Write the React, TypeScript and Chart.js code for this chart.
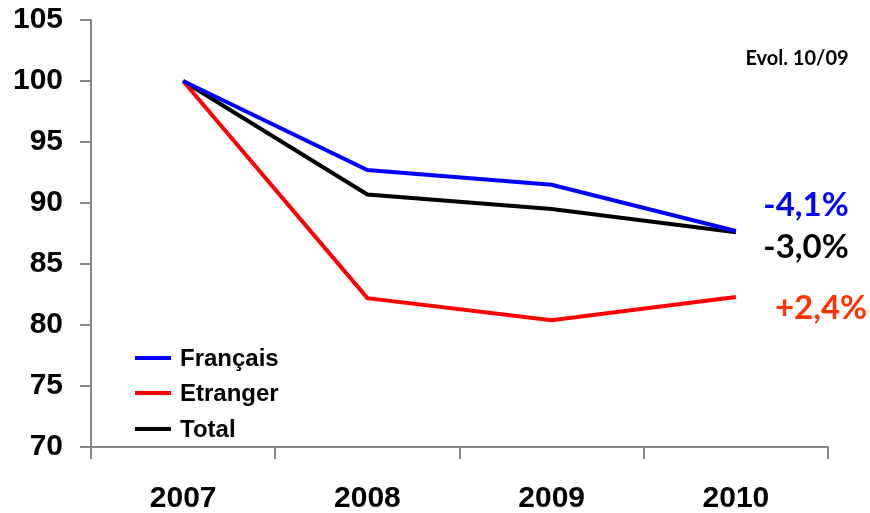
import React, { useEffect, useRef } from "react";
import { Chart, registerables } from "chart.js";

Chart.register(...registerables);

const years = ["2007", "2008", "2009", "2010"];
const francais = [100, 92.7, 91.5, 87.7];
const etranger = [100, 82.2, 80.4, 82.3];
const total = [100, 90.7, 89.5, 87.6];
const seriesNames = ["Français", "Etranger", "Total"];
const seriesColors = ["#0000FF", "#FF0000", "#000000"];
const evolTitle = "Evol. 10/09";
const evolLabels = ["-4,1%", "-3,0%", "+2,4%"];
const evolColors = ["#0000FF", "#000000", "#FF3300"];
// dataset index each evolution label refers to
const evolSeries = [0, 2, 1];

const AXIS_COLOR = "#868686";
const LABEL_FONT = "Lato, 'Open Sans', 'Liberation Sans', sans-serif";

const legendPlugin = {
  id: "customLegend",
  afterDraw(chart: any) {
    const { ctx, chartArea } = chart;
    ctx.save();
    ctx.font = "bold 24px 'Liberation Sans', Arial, sans-serif";
    ctx.textBaseline = "middle";
    ctx.textAlign = "left";
    const rows = [chartArea.bottom - 89, chartArea.bottom - 54, chartArea.bottom - 18];
    chart.data.datasets.forEach((ds: any, i: number) => {
      const y = rows[i];
      const x0 = chartArea.left + 44;
      ctx.strokeStyle = ds.borderColor;
      ctx.lineWidth = 4;
      ctx.beginPath();
      ctx.moveTo(x0, y);
      ctx.lineTo(x0 + 36, y);
      ctx.stroke();
      ctx.fillStyle = "#000";
      ctx.fillText(ds.label, x0 + 45, y + 1);
    });
    ctx.restore();
  },
};

const evolPlugin = {
  id: "evolLabels",
  afterDraw(chart: any) {
    const { ctx, chartArea } = chart;
    ctx.save();
    ctx.textBaseline = "middle";
    ctx.textAlign = "center";
    ctx.fillStyle = "#000";
    ctx.font = `bold 20px ${LABEL_FONT}`;
    ctx.fillText(evolTitle, chartArea.right - 31, chartArea.top + 39);
    ctx.font = `bold 33px ${LABEL_FONT}`;
    const offsets = [-26, 15, 11];
    const xs = [-22, -22, -7];
    evolLabels.forEach((txt, i) => {
      const meta = chart.getDatasetMeta(evolSeries[i]);
      const last = meta.data[meta.data.length - 1];
      ctx.fillStyle = evolColors[i];
      ctx.fillText(txt, chartArea.right + xs[i], last.y + offsets[i]);
    });
    ctx.restore();
  },
};

export default function App() {
  const ref = useRef<HTMLCanvasElement | null>(null);
  useEffect(() => {
    document.body.style.margin = "0";
    const canvas = ref.current;
    if (!canvas) return;
    const values = [francais, etranger, total];
    const chart = new Chart(canvas, {
      type: "line",
      data: {
        labels: years,
        datasets: values.map((v, i) => ({
          label: seriesNames[i],
          data: v,
          borderColor: seriesColors[i],
          backgroundColor: seriesColors[i],
          borderWidth: 4,
          pointRadius: 0,
          tension: 0,
          fill: false,
        })),
      },
      options: {
        responsive: false,
        animation: false,
        events: [],
        layout: { padding: { top: 20, right: 42, left: 0, bottom: 0 } },
        plugins: { legend: { display: false }, tooltip: { enabled: false } },
        scales: {
          x: {
            type: "category",
            offset: true,
            grid: {
              offset: true,
              drawOnChartArea: false,
              drawTicks: true,
              tickLength: 12,
              color: AXIS_COLOR,
              lineWidth: 2,
            },
            border: { display: true, color: AXIS_COLOR, width: 2 },
            ticks: {
              color: "#000",
              font: { family: "'Liberation Sans', Arial, sans-serif", size: 30, weight: "bold" },
              padding: 22,
              maxRotation: 0,
            },
            afterFit(scale: any) {
              scale.height = 66;
              scale.paddingLeft = 0;
              scale.paddingRight = 0;
            },
          },
          y: {
            min: 70,
            max: 105,
            ticks: {
              stepSize: 5,
              color: "#000",
              font: { family: "'Liberation Sans', Arial, sans-serif", size: 30, weight: "bold" },
              padding: 17,
            },
            grid: {
              drawOnChartArea: false,
              drawTicks: true,
              tickLength: 11,
              color: AXIS_COLOR,
              lineWidth: 2,
            },
            border: { display: true, color: AXIS_COLOR, width: 2 },
            afterFit(scale: any) {
              scale.width = 91;
              scale.paddingTop = 0;
              scale.paddingBottom = 0;
            },
          },
        },
      },
      plugins: [legendPlugin, evolPlugin],
    });
    return () => chart.destroy();
  }, []);
  return <canvas ref={ref} width={870} height={513} style={{ display: "block" }} />;
}
